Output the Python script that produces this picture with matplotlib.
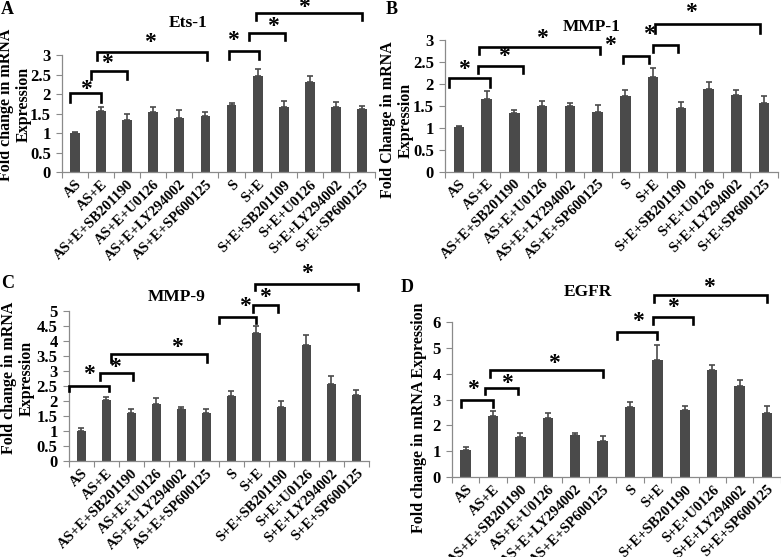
import matplotlib
matplotlib.use("Agg")
import matplotlib.pyplot as plt
import numpy as np

plt.rcParams['font.family'] = ['Liberation Serif', 'DejaVu Serif']
plt.rcParams['font.weight'] = 'bold'

categories = ["AS", "AS+E", "AS+E+SB201190", "AS+E+U0126", "AS+E+LY294002", "AS+E+SP600125",
              "S", "S+E", "S+E+SB201190", "S+E+U0126", "S+E+LY294002", "S+E+SP600125"]
categories_a = ["AS", "AS+E", "AS+E+SB201190", "AS+E+U0126", "AS+E+LY294002", "AS+E+SP600125",
                "S", "S+E", "S+E+SB201109", "S+E+U0126", "S+E+LY294002", "S+E+SP600125"]

ets1_mean = [1.00, 1.58, 1.35, 1.55, 1.39, 1.44, 1.71, 2.47, 1.67, 2.32, 1.68, 1.61]
ets1_err = [0.02, 0.10, 0.14, 0.12, 0.21, 0.09, 0.07, 0.16, 0.15, 0.14, 0.13, 0.08]

mmp1_mean = [1.01, 1.65, 1.34, 1.50, 1.50, 1.37, 1.72, 2.15, 1.46, 1.89, 1.74, 1.57]
mmp1_err = [0.04, 0.19, 0.06, 0.12, 0.06, 0.16, 0.13, 0.22, 0.12, 0.16, 0.11, 0.15]

mmp9_mean = [1.02, 2.02, 1.60, 1.91, 1.74, 1.61, 2.16, 4.25, 1.80, 3.87, 2.56, 2.19]
mmp9_err = [0.07, 0.13, 0.13, 0.20, 0.06, 0.13, 0.19, 0.24, 0.19, 0.32, 0.28, 0.19]

egfr_mean = [1.05, 2.38, 1.57, 2.29, 1.62, 1.40, 2.72, 4.51, 2.60, 4.13, 3.51, 2.47]
egfr_err = [0.11, 0.18, 0.14, 0.19, 0.10, 0.18, 0.17, 0.59, 0.15, 0.19, 0.26, 0.27]

BAR = '#4a4a4a'
AXC = '#8a8a8a'

W, H = 781, 557
fig = plt.figure(figsize=(7.81, 5.57), dpi=100)


def frac(left, right, top, bottom):
    return [left / W, 1 - bottom / H, (right - left) / W, (bottom - top) / H]


def panel(rect, labels, mean, err, ymax, ystep, title, title_xy, ylabel, ylabel_xy,
          letter, letter_xy, brackets, stars):
    ax = fig.add_axes(frac(*rect))
    x = np.arange(len(labels))
    ax.bar(x, mean, width=0.38, color=BAR, zorder=2)
    ax.errorbar(x, mean, yerr=[np.zeros(len(err)), err], fmt='none', ecolor=BAR,
                elinewidth=1.2, capsize=2.5, capthick=1.2, zorder=3)
    ax.set_xlim(-0.5, len(labels) - 0.5)
    ax.set_ylim(0, ymax)
    yt = np.arange(0, ymax + 1e-9, ystep)
    ax.set_yticks(yt)
    ax.set_yticklabels(['%g' % v for v in yt], fontsize=12, fontweight='bold')
    ax.set_xticks(np.arange(-0.5, len(labels) + 0.5, 1.0))
    ax.set_xticklabels([])
    ax.set_xticks(x, minor=True)
    ax.set_xticklabels(labels, minor=True, rotation=45, ha='right', va='top',
                       rotation_mode='anchor', fontsize=10.5, fontweight='bold')
    ax.tick_params(axis='x', which='minor', length=0, pad=4)
    ax.tick_params(axis='x', which='major', length=4, color=AXC, width=0.8)
    ax.tick_params(axis='y', length=4, color=AXC, width=0.8, pad=4)
    for s in ['top', 'right']:
        ax.spines[s].set_visible(False)
    for s in ['left', 'bottom']:
        ax.spines[s].set_color(AXC)
        ax.spines[s].set_linewidth(0.9)
    for (x0, x1, ytop, ylow) in brackets:
        ax.plot([x0, x0, x1, x1], [ylow, ytop, ytop, ylow], color='black', lw=1.9,
                clip_on=False, zorder=4, solid_joinstyle='miter')
    for (sx, sy) in stars:
        ax.text(sx, sy, '*', ha='center', va='center', fontsize=17, fontweight='bold',
                clip_on=False)
    fig.text(title_xy[0] / W, 1 - title_xy[1] / H, title, ha='center', va='center',
             fontsize=12.5, fontweight='bold')
    fig.text(ylabel_xy[0] / W, 1 - ylabel_xy[1] / H, ylabel, ha='center', va='center',
             rotation=90, fontsize=11.5, fontweight='bold', linespacing=1.1)
    fig.text(letter_xy[0] / W, 1 - letter_xy[1] / H, letter, ha='left', va='center',
             fontsize=13, fontweight='bold')
    return ax


# Panel A
panel((62, 375, 55, 172.3), categories_a, ets1_mean, ets1_err, 3, 0.5,
      'Ets-1', (188, 23), 'Fold change in mRNA\nExpression', (15, 104.5), 'A', (1, 10),
      [(-0.18, 1.0, 2.04, 1.80), (0.62, 2.01, 2.59, 2.38), (0.84, 5.06, 3.07, 2.87),
       (5.91, 7.05, 3.10, 2.90), (6.68, 8.06, 3.55, 3.38), (6.94, 11.0, 4.08, 3.90)],
      [(0.4, 2.12), (1.22, 2.78), (2.89, 3.32), (6.07, 3.36), (7.6, 3.74), (8.79, 4.22)])

# Panel B
panel((445, 778, 40, 171.7), categories, mmp1_mean, mmp1_err, 3, 0.5,
      'MMP-1', (591.7, 26.7), 'Fold Change in mRNA\nExpression', (397, 120), 'B', (386, 9),
      [(-0.35, 1.11, 2.13, 1.94), (0.68, 2.31, 2.41, 2.24), (0.71, 5.09, 2.85, 2.67),
       (5.93, 6.84, 2.64, 2.47), (6.98, 7.89, 2.89, 2.72), (7.05, 10.86, 3.36, 3.17)],
      [(0.17, 2.33), (1.62, 2.62), (3.01, 3.03), (5.46, 2.88), (6.85, 3.13), (8.37, 3.62)])

# Panel C
panel((68.8, 368.8, 310.7, 461.3), categories, mmp9_mean, mmp9_err, 5, 0.5,
      'MMP-9', (176.7, 296.7), 'Fold change in mRNA\nExpression', (18, 378), 'C', (1, 284),
      [(-0.48, 1.12, 2.51, 2.33), (0.75, 2.06, 2.92, 2.70), (1.18, 5.02, 3.55, 3.31),
       (5.52, 7.0, 4.78, 4.58), (6.88, 7.86, 5.20, 4.97), (6.95, 11.08, 5.88, 5.69)],
      [(0.31, 2.88), (1.35, 3.12), (3.82, 3.78), (6.55, 5.13), (7.35, 5.44), (9.03, 6.23)])

# Panel D
panel((452, 780.7, 321.7, 477.3), categories, egfr_mean, egfr_err, 6, 1,
      'EGFR', (588, 291.7), 'Fold change in mRNA Expression', (419, 418), 'D', (401, 288),
      [(-0.18, 1.0, 2.98, 2.72), (0.71, 1.91, 3.46, 3.21), (0.89, 5.02, 4.14, 3.88),
       (5.53, 6.98, 5.60, 5.35), (6.82, 8.3, 6.17, 5.91), (6.87, 10.99, 7.03, 6.77)],
      [(0.28, 3.37), (1.5, 3.63), (3.21, 4.40), (6.29, 6.02), (7.58, 6.56), (8.88, 7.33)])

fig.savefig('out.png', dpi=100)
